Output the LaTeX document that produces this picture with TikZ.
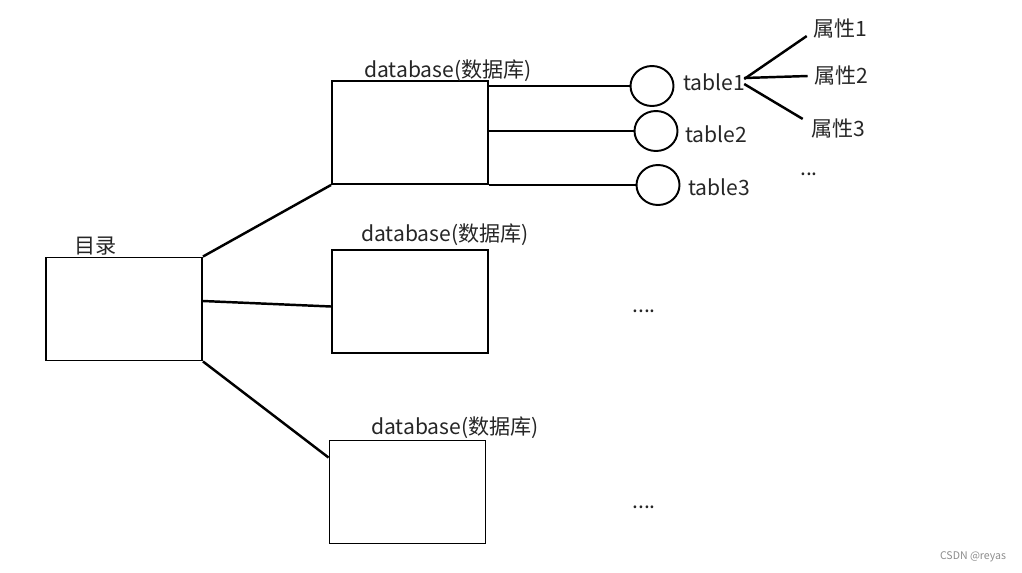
\documentclass[tikz,border=0pt]{standalone}
\usepackage{fontspec}
\setmainfont{Noto Sans CJK SC}
\usetikzlibrary{calc,shapes.geometric}
\tikzset{
  box/.style={draw, line width=1.1pt, minimum width=3.12cm, minimum height=2.06cm, inner sep=0pt},
  tbl/.style={draw, ellipse, line width=1.1pt, minimum width=0.86cm, minimum height=0.8cm, inner sep=0pt},
  lbl/.style={inner sep=0pt, text=black!85, font=\fontsize{12pt}{14pt}\selectfont},
  link/.style={line width=1.4pt}
}

\begin{document}
\begin{tikzpicture}[x=0.02cm, y=-0.02cm]
			%%%%% START %%%%%
			\useasboundingbox (0, 0) rectangle (1022, 572);
			
			% catalogue box
			\node[box] (root) at (124, 309) {};
			\node[lbl] (rootlbl) at (96, 246) {目录};
			
			% three databases
			\node[box] (db1) at (410, 132.5) {};
			\node[box] (db2) at (410, 301.5) {};
			\node[box] (db3) at (407.5, 492) {};
			\node[lbl] (db1lbl) at (448, 71) {database(数据库)};
			\node[lbl] (db2lbl) at (445, 235) {database(数据库)};
			\node[lbl] (db3lbl) at (455, 428) {database(数据库)};
			
			\draw[link] (root.north east) -- (db1.south west);
			\draw[link] ($(root.east)+(0, -8)$) -- ($(db2.west)+(0, 5)$);
			\draw[link] (root.south east) -- ($(db3.north west)+(0, 18)$);
			
			% tables of the first database
			\node[tbl] (t1) at (652, 86) {};
			\node[tbl] (t2) at (656, 131) {};
			\node[tbl] (t3) at (658, 185) {};
			\node[lbl] (t1lbl) at (714, 82) {table1};
			\node[lbl] (t2lbl) at (716, 134) {table2};
			\node[lbl] (t3lbl) at (719, 187) {table3};
			
			\draw[link] (db1.east |- t1.west) -- (t1.west);
			\draw[link] (db1.east |- t2.west) -- (t2.west);
			\draw[link] (db1.east |- t3.west) -- (t3.west);
			
			% attributes of table1
			\node[lbl] (a1) at (840, 28) {属性1};
			\node[lbl] (a2) at (841, 75) {属性2};
			\node[lbl] (a3) at (838, 128) {属性3};
			
			\draw[link] ($(t1lbl.east)+(-1, -3)$) -- ($(a1.south west)+(-6, -2)$);
			\draw[link] ($(t1lbl.east)+(-1, -4)$) -- ($(a2.west)+(-6, 1)$);
			\draw[link] ($(t1lbl.east)+(-1, 2)$) -- ($(a3.north west)+(-8, 1)$);
			
			% more ...
			\node[lbl] (more1) at (809, 174) {...};
			\node[lbl] (more2) at (644, 311) {....};
			\node[lbl] (more3) at (644, 507) {....};
			
			\node[inner sep=0pt, text=black!45, font=\fontsize{6pt}{7pt}\selectfont] (mark) at (973, 557) {CSDN @reyas};
			%%%%% END %%%%%
\end{tikzpicture}
\end{document}
